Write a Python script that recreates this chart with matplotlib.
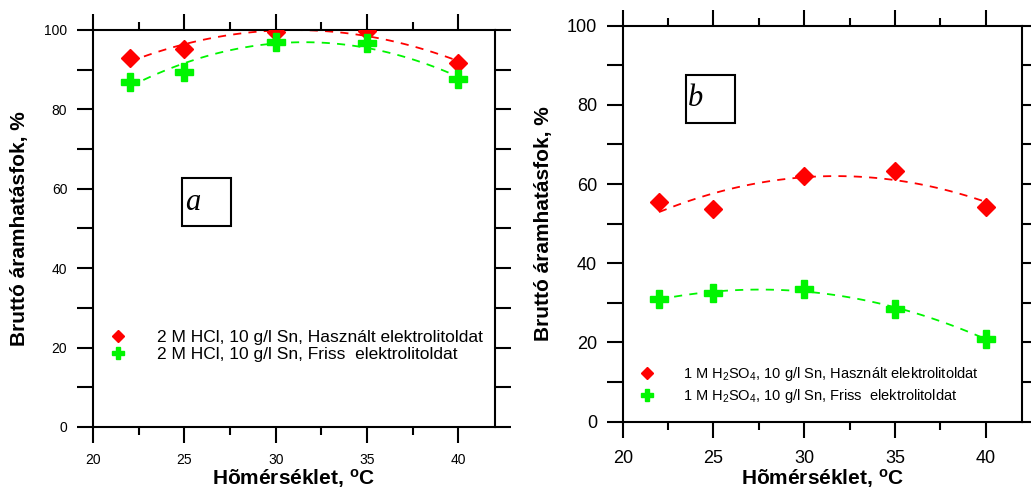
import numpy as np
import matplotlib
matplotlib.use('Agg')
import matplotlib.pyplot as plt
from matplotlib.ticker import MultipleLocator
from matplotlib.lines import Line2D
from matplotlib.patches import Rectangle

plt.rcParams['font.family'] = ['Liberation Sans', 'DejaVu Sans']
plt.rcParams['mathtext.default'] = 'regular'

# hőmérséklet, °C
temp = [22, 25, 30, 35, 40]

# a) 2 M HCl
hcl_hasznalt = [92.9, 95.1, 99.6, 99.7, 91.6]
hcl_friss = [87.0, 89.5, 96.9, 96.6, 87.6]

# b) 1 M H2SO4
h2so4_hasznalt = [55.4, 53.7, 62.0, 63.4, 54.3]
h2so4_friss = [30.9, 32.6, 33.4, 28.4, 21.0]

labels_a = ['2 M HCl, 10 g/l Sn, Használt elektrolitoldat',
            '2 M HCl, 10 g/l Sn, Friss  elektrolitoldat']
labels_b = ['1 M H$_2$SO$_4$, 10 g/l Sn, Használt elektrolitoldat',
            '1 M H$_2$SO$_4$, 10 g/l Sn, Friss  elektrolitoldat']

xlabel = 'Hõmérséklet, $^o$C'
ylabel = 'Bruttó áramhatásfok, %'

RED = '#ff0000'
GREEN = '#00f500'


def setAxis(ax, tickfs, xpad, lpad_x, lpad_y): # tengelyek, osztások
    ax.set_xlim(20, 42)
    ax.set_ylim(0, 100)
    ax.xaxis.set_major_locator(MultipleLocator(5))
    ax.xaxis.set_minor_locator(MultipleLocator(2.5))
    ax.yaxis.set_major_locator(MultipleLocator(20))
    ax.yaxis.set_minor_locator(MultipleLocator(10))
    ax.set_xticks([20, 25, 30, 35, 40])
    for s in ax.spines.values():
        s.set_linewidth(1.5)
    ax.tick_params(which='both', direction='out', top=True, right=True, width=1.5)
    ax.tick_params(axis='x', which='major', length=11.5, pad=xpad, labelsize=tickfs)
    ax.tick_params(axis='x', which='minor', length=6)
    ax.tick_params(axis='y', which='both', length=11.5, pad=7, labelsize=tickfs)
    ax.set_xlabel(xlabel, fontsize=15, fontweight='bold', labelpad=lpad_x)
    ax.set_ylabel(ylabel, fontsize=15, fontweight='bold', labelpad=lpad_y)


def drawSeries(ax, y, color, marker, ms):
    x = np.array(temp, dtype=float)
    c = np.polyfit(x, y, 2)
    xf = np.linspace(22, 40, 100)
    ax.plot(xf, np.polyval(c, xf), color=color, lw=1.3, linestyle=(0, (4.5, 4)), zorder=2)
    ax.plot(x, y, linestyle='none', marker=marker, ms=ms, color=color, mec=color, mew=1, zorder=3)


fig = plt.figure(figsize=(10.31, 4.9), dpi=100)
ax1 = fig.add_axes([0.0902, 0.1286, 0.3898, 0.8102])
ax2 = fig.add_axes([0.604, 0.1394, 0.3873, 0.8082])

# a panel
drawSeries(ax1, hcl_hasznalt, RED, 'D', 9.5)
drawSeries(ax1, hcl_friss, GREEN, 'P', 13.5)
setAxis(ax1, 10, 7, 0, 11)
h = [Line2D([], [], ls='none', marker='D', ms=6, color=RED),
     Line2D([], [], ls='none', marker='P', ms=8.5, color=GREEN)]
ax1.legend(h, labels_a, loc='center left', bbox_to_anchor=(0.030, 0.204), frameon=False,
           fontsize=12.5, handlelength=1.5, handletextpad=1.49, labelspacing=0.1,
           borderpad=0, borderaxespad=0)
ax1.add_patch(Rectangle((0.221, 0.506), 0.122, 0.121, transform=ax1.transAxes,
                        fill=False, lw=1.5, color='black'))
ax1.text(0.229, 0.547, 'a', transform=ax1.transAxes, fontsize=22, style='italic',
         family='Liberation Serif')

# b panel
drawSeries(ax2, h2so4_hasznalt, RED, 'D', 9.5)
drawSeries(ax2, h2so4_friss, GREEN, 'P', 13.5)
setAxis(ax2, 13, 9, 0, 10)
ax2.legend(h, labels_b, loc='center left', bbox_to_anchor=(0.0327, 0.092), frameon=False,
           fontsize=10.5, handlelength=1.5, handletextpad=1.72, labelspacing=0.3,
           borderpad=0, borderaxespad=0)
ax2.add_patch(Rectangle((0.1585, 0.754), 0.1225, 0.1215, transform=ax2.transAxes,
                        fill=False, lw=1.5, color='black'))
ax2.text(0.1635, 0.797, 'b', transform=ax2.transAxes, fontsize=22, style='italic',
         family='Liberation Serif')

plt.savefig('out.png', dpi=100)
